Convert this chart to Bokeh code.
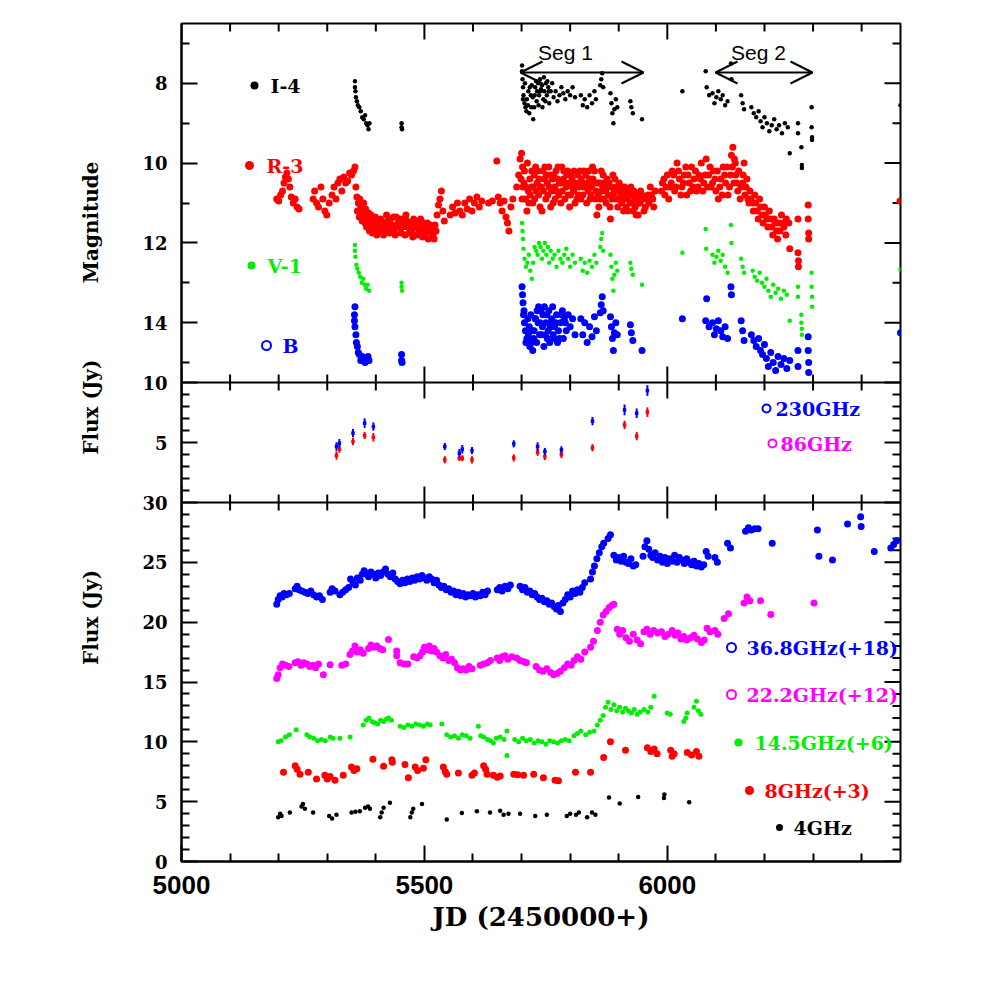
from math import pi
from bokeh.plotting import figure
from bokeh.layouts import row
from bokeh.models import Range1d, LinearAxis, FixedTicker, Span, Label, Arrow, OpenHead
from bokeh.embed import file_html
from bokeh.resources import INLINE

# ---------------- data (JD-2450000, value) ----------------
i_band = [
    (5357, 7.95), (5357, 8.1), (5358, 8.2), (5359, 8.35), (5361, 8.45), (5363, 8.55), (5366, 8.6), (5369, 8.7),
    (5372, 8.85), (5375, 8.9), (5378, 8.8), (5380, 9.0), (5383, 9.05), (5385, 9.15), (5387, 9.0),
    (5453, 9.0), (5453, 9.1), (5454, 9.15),
    (5701, 7.55), (5701, 7.7), (5702, 7.9), (5703, 8.1), (5704, 8.3), (5706, 8.5), (5708, 8.6), (5711, 8.4),
    (5714, 8.2), (5716, 8.75), (5719, 8.3), (5721, 8.05), (5724, 8.9), (5726, 8.6), (5728, 8.1), (5730, 7.95),
    (5732, 8.2), (5734, 8.0), (5736, 8.3), (5738, 7.9), (5740, 8.15), (5742, 8.05), (5745, 8.4), (5747, 8.2),
    (5750, 8.0), (5752, 8.3), (5755, 8.1), (5757, 8.5), (5760, 8.2), (5763, 8.0), (5766, 8.35), (5770, 8.2),
    (5774, 8.45), (5778, 8.3), (5782, 8.1), (5786, 8.25), (5790, 8.4), (5795, 8.2), (5800, 8.3), (5805, 8.1),
    (5810, 8.35), (5822, 8.3), (5826, 8.55), (5830, 8.4), (5835, 8.6), (5840, 8.3), (5845, 8.5), (5850, 8.2),
    (5853, 8.4), (5862, 8.05), (5864, 7.9), (5866, 7.75), (5868, 8.1), (5883, 8.25), (5885, 8.5), (5887, 8.75),
    (5889, 9.0), (5891, 8.65), (5894, 8.4), (5897, 8.6), (5924, 8.45), (5926, 8.6), (5929, 8.75), (5948, 8.9),
    (6031, 8.2), (6079, 7.7), (6081, 8.1), (6086, 8.3), (6093, 8.25), (6097, 8.5), (6101, 8.35), (6105, 8.2),
    (6110, 8.4), (6114, 8.3), (6119, 8.55), (6124, 8.45), (6131, 7.5), (6132, 7.9), (6152, 8.3), (6155, 8.5),
    (6158, 8.65), (6173, 8.6), (6178, 8.75), (6183, 8.85), (6188, 8.7), (6192, 8.95), (6196, 9.1), (6200, 8.85),
    (6205, 9.0), (6210, 9.2), (6215, 9.05), (6220, 8.9), (6225, 9.15), (6230, 9.05), (6236, 9.25), (6242, 9.0),
    (6248, 9.1), (6252, 9.75), (6269, 9.0), (6269, 9.25), (6276, 9.6), (6277, 10.05), (6277, 10.12),
    (6297, 8.6), (6297, 9.1), (6298, 9.35), (6298, 9.42), (6480, 8.55),
    (5703, 8.4), (5707, 8.0), (5710, 8.7), (5713, 8.55), (5717, 8.1), (5720, 8.6), (5723, 8.35), (5727, 8.3),
    (5731, 8.45), (5735, 8.55), (5739, 8.2), (5743, 8.6), (5746, 7.85), (5749, 8.45), (5753, 7.95), (5756, 8.2),
]

r_band = [
    (5196, 10.9), (5200, 10.95), (5204, 10.8), (5208, 10.7), (5211, 10.5), (5214, 10.35), (5217, 10.25),
    (5220, 10.4), (5223, 10.6), (5226, 10.85), (5230, 11.0), (5234, 10.9), (5238, 11.1), (5242, 11.15),
    (5271, 10.9), (5274, 10.7), (5278, 11.0), (5282, 11.1), (5287, 10.6), (5291, 10.9), (5295, 11.2),
    (5299, 11.3), (5304, 11.0), (5310, 10.8), (5314, 10.6), (5318, 10.9), (5322, 10.5), (5326, 10.4),
    (5330, 10.7), (5334, 10.35), (5338, 10.5), (5342, 10.45), (5346, 10.25), (5350, 10.3), (5354, 10.2),
    (5357, 10.1), (5359, 10.6), (5361, 10.85), (5364, 11.0), (5367, 10.9), (5370, 11.2), (5373, 11.05),
    (5376, 11.3), (5379, 11.15), (5382, 11.35), (5385, 11.25), (5388, 11.5), (5391, 11.4), (5394, 11.6),
    (5397, 11.45), (5400, 11.7), (5403, 11.55), (5406, 11.65), (5410, 11.4), (5414, 11.7), (5418, 11.5),
    (5422, 11.3), (5426, 11.6), (5430, 11.4), (5434, 11.55), (5438, 11.7), (5442, 11.35), (5446, 11.5),
    (5450, 11.6), (5454, 11.4), (5458, 11.55), (5462, 11.3), (5466, 11.6), (5470, 11.5), (5474, 11.7),
    (5478, 11.4), (5482, 11.6), (5486, 11.5), (5490, 11.75), (5494, 11.45), (5498, 11.6), (5502, 11.8),
    (5506, 11.5), (5510, 11.7), (5514, 11.6), (5518, 11.8), (5522, 11.55), (5526, 11.3), (5529, 11.05),
    (5532, 10.9), (5535, 10.7), (5538, 11.2), (5541, 11.45), (5553, 11.3), (5558, 11.1), (5563, 11.25),
    (5568, 11.0), (5573, 11.2), (5578, 11.3), (5583, 11.0), (5588, 11.15), (5593, 10.9), (5598, 11.2),
    (5603, 11.0), (5608, 10.85), (5613, 11.1), (5618, 10.95), (5632, 11.0), (5640, 10.95), (5649, 9.95),
    (5652, 10.85), (5656, 11.0), (5660, 11.2), (5664, 10.95), (5668, 11.35), (5671, 11.5), (5674, 11.7),
    (5678, 11.1), (5682, 10.9),
    (5690, 10.6), (5694, 10.3), (5697, 9.9), (5700, 9.75), (5702, 10.1), (5705, 10.5), (5708, 10.9),
    (5711, 11.2), (5714, 10.7), (5717, 10.4), (5720, 10.6), (5723, 11.0), (5726, 10.3), (5729, 10.1),
    (5732, 10.5), (5735, 10.8), (5738, 11.1), (5741, 10.6), (5744, 10.2), (5747, 10.4), (5750, 10.9),
    (5753, 10.5), (5756, 10.1), (5759, 10.3), (5762, 10.7), (5765, 11.0), (5768, 10.6), (5771, 10.2),
    (5774, 10.4), (5777, 10.8), (5780, 10.5), (5783, 10.1), (5786, 10.4), (5789, 10.9), (5792, 10.6),
    (5795, 10.2), (5798, 10.5), (5801, 10.8), (5804, 10.4), (5807, 10.7), (5810, 11.0), (5813, 10.6),
    (5816, 10.3), (5819, 10.6), (5822, 10.9), (5825, 10.5), (5828, 10.2), (5831, 10.6), (5834, 11.0),
    (5837, 10.7), (5840, 10.4), (5843, 10.8), (5846, 10.1), (5849, 10.5), (5852, 10.9), (5855, 11.3),
    (5858, 10.8), (5861, 10.5), (5864, 10.2), (5867, 10.6), (5870, 10.9), (5873, 10.7), (5876, 10.4),
    (5879, 10.8), (5882, 11.1), (5885, 10.6), (5888, 10.3), (5891, 10.7), (5894, 10.9), (5897, 10.6),
    (5900, 10.9), (5903, 10.7), (5906, 11.0), (5909, 10.8), (5912, 10.6), (5915, 11.1), (5918, 10.9),
    (5921, 10.7), (5924, 11.0), (5927, 10.8), (5930, 11.2), (5933, 10.9), (5936, 11.3), (5939, 10.8),
    (5942, 11.0), (5945, 10.7), (5950, 10.9), (5955, 11.1), (5960, 10.8), (5965, 10.6), (5970, 10.9),
    (5975, 10.7),
    (5990, 10.5), (5995, 10.8), (6000, 10.3), (6005, 10.6), (6010, 10.2), (6015, 10.7), (6020, 10.0),
    (6025, 10.4), (6030, 10.6), (6035, 10.3), (6040, 10.8), (6045, 10.5), (6050, 10.1), (6055, 10.4),
    (6060, 10.7), (6065, 10.3), (6070, 10.0), (6075, 10.5), (6080, 9.9), (6085, 10.3), (6090, 10.6),
    (6095, 10.2), (6100, 10.7), (6105, 10.9), (6110, 10.4), (6115, 10.1), (6120, 10.5), (6125, 10.8),
    (6130, 10.3), (6135, 9.6), (6138, 9.9), (6141, 10.3), (6145, 10.7), (6150, 10.9), (6155, 10.5),
    (6158, 10.0), (6162, 10.6), (6166, 10.9), (6170, 10.7), (6175, 11.0), (6180, 10.8), (6185, 11.2),
    (6190, 10.9), (6195, 11.3), (6200, 11.1), (6205, 11.4), (6210, 11.2), (6215, 11.6), (6220, 11.4),
    (6225, 11.7), (6230, 11.5), (6235, 11.3), (6240, 11.6), (6245, 11.4), (6250, 11.5),
    (6252, 12.15), (6269, 11.4), (6269, 12.25), (6270, 12.45), (6270, 12.6), (6290, 11.05), (6290, 11.4),
    (6291, 11.75), (6291, 11.9), (6479, 10.95),
]

r_band_dense = [
    (5362, 11.2), (5366, 11.35), (5369, 11.1), (5372, 11.45), (5375, 11.0), (5378, 11.5), (5381, 11.6),
    (5384, 11.4), (5387, 11.7), (5390, 11.3), (5393, 11.75), (5396, 11.5), (5399, 11.35), (5402, 11.8),
    (5405, 11.45), (5408, 11.7), (5412, 11.55), (5416, 11.8), (5420, 11.65), (5424, 11.45), (5428, 11.75),
    (5432, 11.6), (5436, 11.35), (5440, 11.8), (5444, 11.6), (5448, 11.4), (5452, 11.75), (5456, 11.6),
    (5460, 11.8), (5464, 11.45), (5468, 11.75), (5472, 11.6), (5476, 11.85), (5480, 11.55), (5484, 11.8),
    (5488, 11.65), (5492, 11.4), (5496, 11.85), (5500, 11.65), (5504, 11.7), (5508, 11.9), (5512, 11.55),
    (5516, 11.75), (5520, 11.9), (5524, 11.7),
    (5699, 10.4), (5701, 10.9), (5703, 10.6), (5706, 10.2), (5709, 10.6), (5712, 10.0), (5715, 11.0),
    (5718, 10.8), (5721, 10.2), (5724, 10.6), (5727, 10.9), (5730, 10.7), (5733, 10.2), (5736, 10.4),
    (5739, 10.6), (5742, 11.2), (5745, 10.7), (5748, 10.1), (5751, 10.3), (5754, 10.8), (5757, 10.6),
    (5760, 11.1), (5763, 10.4), (5766, 10.3), (5769, 10.9), (5772, 10.7), (5775, 10.1), (5778, 10.5),
    (5781, 11.0), (5784, 10.7), (5787, 10.2), (5790, 10.5), (5793, 10.3), (5796, 10.8), (5799, 11.1),
    (5802, 10.3), (5805, 10.6), (5808, 10.2), (5811, 10.5), (5814, 10.9), (5817, 10.8), (5820, 10.2),
    (5823, 10.4), (5826, 10.8), (5829, 10.6), (5832, 10.3), (5835, 10.5), (5838, 10.2), (5841, 10.9),
    (5844, 10.6), (5847, 10.4), (5850, 10.2), (5853, 10.7), (5856, 10.5), (5859, 11.1), (5862, 10.9),
    (5865, 10.7), (5868, 10.3), (5871, 10.5), (5874, 11.0), (5877, 10.6), (5880, 10.5), (5883, 11.4),
    (5886, 10.9), (5889, 10.8), (5892, 10.4), (5895, 10.6), (5898, 11.1), (5901, 10.5), (5904, 10.8),
    (5907, 10.6), (5910, 11.2), (5913, 10.9), (5916, 10.7), (5919, 11.2), (5922, 10.8), (5925, 10.6),
    (5928, 11.0), (5931, 10.7), (5934, 11.1), (5937, 10.9), (5940, 11.3), (5944, 11.0), (5948, 10.8),
    (5952, 11.2), (5957, 10.9), (5962, 11.0), (5967, 10.8), (5972, 11.1),
    (5988, 10.7), (5993, 10.4), (5998, 10.6), (6003, 10.9), (6008, 10.5), (6013, 10.3), (6018, 10.6),
    (6023, 10.2), (6028, 10.8), (6033, 10.5), (6038, 10.1), (6043, 10.3), (6048, 10.7), (6053, 10.6),
    (6058, 10.2), (6063, 10.6), (6068, 10.4), (6073, 10.7), (6078, 10.3), (6083, 10.6), (6088, 10.1),
    (6093, 10.5), (6098, 10.4), (6103, 10.2), (6108, 10.6), (6113, 10.8), (6118, 10.3), (6123, 10.1),
    (6128, 10.6), (6132, 9.8), (6134, 10.1), (6137, 10.5), (6140, 10.0), (6143, 10.5), (6147, 10.2),
    (6152, 10.6), (6156, 10.3), (6160, 10.8), (6164, 10.4), (6168, 11.0), (6172, 10.9), (6177, 11.2),
    (6182, 11.0), (6187, 11.4), (6192, 11.1), (6197, 11.5), (6202, 11.3), (6207, 11.6), (6212, 11.4),
    (6217, 11.8), (6222, 11.5), (6227, 11.9), (6232, 11.7), (6238, 11.5), (6244, 11.8),
]

v_band = [
    (5357, 12.05), (5357, 12.2), (5358, 12.35), (5360, 12.55), (5362, 12.65), (5365, 12.75), (5368, 12.85),
    (5371, 13.0), (5374, 12.9), (5377, 13.05), (5380, 13.15), (5383, 13.05), (5386, 13.2),
    (5453, 13.0), (5453, 13.1), (5454, 13.2),
    (5701, 11.5), (5702, 11.7), (5703, 11.9), (5704, 12.15), (5706, 12.4), (5709, 12.6), (5712, 12.5),
    (5715, 12.3), (5718, 12.7), (5721, 12.9), (5724, 12.5), (5727, 12.1), (5730, 12.2), (5733, 12.3),
    (5736, 12.0), (5739, 12.1), (5742, 12.4), (5745, 12.2), (5748, 12.0), (5751, 12.3), (5754, 12.1),
    (5757, 12.5), (5760, 12.2), (5764, 12.4), (5768, 12.3), (5772, 12.6), (5776, 12.2), (5780, 12.4),
    (5784, 12.5), (5788, 12.3), (5792, 12.15), (5796, 12.4), (5800, 12.6), (5805, 12.3), (5810, 12.5),
    (5822, 12.4), (5826, 12.7), (5830, 12.5), (5835, 12.75), (5840, 12.45), (5845, 12.6), (5850, 12.3),
    (5854, 12.5), (5862, 12.1), (5864, 11.9), (5866, 11.75), (5868, 12.2), (5883, 12.3), (5885, 12.6),
    (5887, 12.9), (5889, 13.2), (5891, 12.8), (5894, 12.5), (5897, 12.7), (5924, 12.5), (5926, 12.65),
    (5929, 12.8), (5948, 13.05), (6031, 12.25), (6079, 11.65), (6080, 12.15), (6093, 12.3), (6097, 12.5),
    (6101, 12.35), (6105, 12.2), (6110, 12.45), (6114, 12.3), (6119, 12.6), (6124, 12.75), (6131, 11.55),
    (6132, 12.0), (6152, 12.4), (6155, 12.6), (6158, 12.75), (6176, 12.7), (6180, 12.85), (6185, 12.95),
    (6190, 12.75), (6195, 13.0), (6200, 13.1), (6204, 12.9), (6208, 13.2), (6213, 13.35), (6218, 13.05),
    (6223, 13.25), (6228, 13.15), (6234, 13.4), (6240, 13.2), (6246, 13.3), (6252, 13.95), (6269, 13.1),
    (6269, 13.35), (6276, 13.8), (6276, 14.0), (6277, 14.15), (6277, 14.3), (6297, 12.75), (6297, 13.1),
    (6298, 13.35), (6298, 13.6), (6480, 12.67),
]

b_band = [
    (5357, 13.6), (5356, 13.8), (5356, 13.95), (5357, 14.1), (5359, 14.3), (5360, 14.5), (5362, 14.6),
    (5364, 14.75), (5366, 14.8), (5369, 14.95), (5372, 14.85), (5375, 14.9), (5378, 15.0), (5381, 14.95),
    (5384, 14.85), (5386, 14.95), (5453, 14.8), (5453, 14.95), (5454, 15.0),
    (5701, 13.1), (5702, 13.3), (5703, 13.5), (5704, 13.8), (5706, 14.0), (5708, 14.2), (5711, 14.4),
    (5714, 14.3), (5717, 14.6), (5720, 14.5), (5723, 14.7), (5726, 14.2), (5729, 13.9), (5732, 13.7),
    (5735, 13.6), (5738, 14.0), (5741, 14.3), (5744, 13.8), (5747, 13.6), (5750, 14.0), (5753, 14.4),
    (5756, 13.7), (5759, 14.1), (5762, 13.9), (5765, 14.3), (5768, 14.1), (5772, 13.8), (5776, 14.2),
    (5780, 14.0), (5784, 13.7), (5788, 13.9), (5792, 14.2), (5796, 13.8), (5800, 14.1), (5805, 13.9),
    (5810, 14.3), (5822, 13.9), (5826, 14.3), (5830, 14.0), (5835, 14.5), (5840, 14.1), (5845, 14.35),
    (5850, 13.85), (5854, 14.2), (5862, 13.75), (5864, 13.55), (5866, 13.35), (5868, 13.7), (5883, 13.85),
    (5885, 14.1), (5887, 14.4), (5889, 14.7), (5891, 14.25), (5894, 14.0), (5897, 14.3), (5924, 14.05),
    (5926, 14.25), (5929, 14.45), (5948, 14.7), (6031, 13.9), (6081, 13.4), (6079, 13.95), (6086, 14.1),
    (6093, 14.0), (6097, 14.3), (6101, 14.15), (6105, 13.95), (6110, 14.2), (6114, 14.35), (6119, 14.1),
    (6124, 14.4), (6131, 13.1), (6132, 13.3), (6152, 13.95), (6155, 14.2), (6158, 14.45), (6173, 14.3),
    (6178, 14.45), (6183, 14.6), (6188, 14.4), (6192, 14.7), (6196, 14.8), (6200, 14.55), (6204, 14.9),
    (6208, 15.1), (6213, 14.75), (6218, 15.0), (6223, 15.2), (6228, 14.85), (6234, 15.05), (6240, 14.9),
    (6246, 15.15), (6252, 14.95), (6269, 14.7), (6269, 15.1), (6290, 14.35), (6290, 14.7), (6291, 15.0),
    (6291, 15.25), (6480, 14.25),
    (5705, 13.7), (5709, 14.5), (5713, 13.9), (5716, 14.1), (5719, 13.8), (5722, 14.2), (5725, 14.4),
    (5728, 13.9), (5731, 14.5), (5734, 14.0), (5737, 14.3), (5740, 13.7), (5743, 14.1), (5746, 14.6),
    (5749, 14.3), (5752, 13.8), (5755, 14.2), (5758, 14.5), (5761, 14.0), (5764, 13.6), (5767, 14.4),
    (5770, 14.0), (5774, 14.5), (5778, 14.4), (5782, 13.8), (5786, 14.4), (5790, 14.0),
]

mm230 = [(5319, 4.67), (5325, 4.94), (5353, 5.78), (5377, 6.61), (5395, 6.33), (5542, 4.67), (5572, 4.11),
         (5578, 4.44), (5598, 4.33), (5684, 4.89), (5733, 4.67), (5748, 4.25), (5782, 4.39), (5846, 6.78),
         (5912, 7.72), (5937, 7.44), (5959, 9.33)]
mm230_err = [0.35, 0.35, 0.35, 0.4, 0.35, 0.3, 0.35, 0.35, 0.3, 0.3, 0.35, 0.3, 0.3, 0.35, 0.45, 0.4, 0.45]
mm86 = [(5319, 3.92), (5325, 4.44), (5353, 5.08), (5377, 5.58), (5395, 5.44), (5542, 3.56), (5572, 3.69),
        (5578, 3.69), (5598, 3.56), (5684, 3.72), (5733, 4.19), (5748, 3.83), (5782, 4.0), (5846, 4.56),
        (5912, 6.47), (5937, 5.53), (5959, 7.53)]
mm86_err = [0.35, 0.3, 0.3, 0.3, 0.35, 0.3, 0.25, 0.25, 0.3, 0.3, 0.3, 0.3, 0.3, 0.3, 0.35, 0.35, 0.4]

f368 = [
    (5196, 21.5), (5199, 21.9), (5203, 22.2), (5207, 22.1), (5211, 22.4), (5216, 22.3), (5222, 22.4),
    (5234, 22.8), (5238, 23.0), (5242, 22.7), (5248, 22.6), (5254, 22.5), (5260, 22.4), (5266, 22.6),
    (5272, 22.3), (5278, 22.1), (5284, 22.2), (5290, 21.9), (5306, 22.5), (5310, 22.8), (5316, 22.6),
    (5326, 22.3), (5332, 22.5), (5338, 22.7), (5344, 22.9), (5348, 23.6), (5353, 23.3), (5358, 23.1),
    (5362, 23.7), (5368, 23.5), (5372, 24.0), (5376, 24.3), (5380, 24.1), (5385, 23.8), (5390, 24.2),
    (5395, 24.0), (5400, 23.7), (5405, 24.1), (5410, 23.9), (5415, 24.2), (5420, 24.45), (5425, 24.0),
    (5430, 23.8), (5435, 24.1), (5440, 23.6), (5445, 23.4), (5450, 23.2), (5455, 23.5), (5460, 23.3),
    (5465, 23.6), (5470, 23.4), (5475, 23.7), (5480, 23.5), (5485, 23.8), (5490, 23.6), (5495, 23.9),
    (5500, 23.7), (5505, 23.5), (5510, 23.8), (5515, 23.6), (5520, 23.3), (5525, 23.5), (5530, 23.1),
    (5535, 22.9), (5540, 23.0), (5545, 22.7), (5550, 22.8), (5555, 22.5), (5560, 22.6), (5565, 22.3),
    (5570, 22.5), (5575, 22.2), (5580, 22.4), (5585, 22.1), (5590, 22.3), (5595, 22.2), (5600, 22.4),
    (5605, 22.1), (5610, 22.3), (5615, 22.2), (5620, 22.5), (5625, 22.3), (5630, 22.6), (5650, 22.7),
    (5655, 22.9), (5660, 22.6), (5666, 23.0), (5672, 22.8), (5677, 23.1), (5697, 23.0), (5702, 22.7),
    (5707, 22.9), (5712, 22.5), (5717, 22.6), (5722, 22.3), (5727, 22.4), (5732, 22.1), (5737, 21.9),
    (5742, 22.0), (5747, 21.7), (5752, 21.8), (5757, 21.5), (5762, 21.6), (5767, 21.3), (5772, 21.1),
    (5776, 21.4), (5780, 20.9), (5785, 21.6), (5790, 21.9), (5795, 22.3), (5800, 22.1), (5805, 22.6),
    (5810, 22.4), (5815, 22.7), (5820, 22.5), (5825, 22.9), (5830, 23.3), (5842, 23.6), (5846, 24.2),
    (5850, 24.7), (5855, 25.3), (5860, 25.8), (5865, 26.3), (5869, 26.6), (5878, 27.0), (5883, 27.3),
    (5890, 25.6), (5895, 25.2), (5900, 25.4), (5905, 25.1), (5910, 25.5), (5915, 25.0), (5920, 24.9),
    (5925, 25.3), (5930, 24.7), (5935, 24.8), (5950, 25.5), (5954, 26.3), (5958, 26.8), (5962, 26.1),
    (5966, 25.6), (5970, 25.4), (5975, 25.8), (5980, 25.2), (5985, 25.5), (5990, 25.0), (5995, 25.4),
    (6000, 24.9), (6005, 25.3), (6010, 25.1), (6015, 25.6), (6020, 25.0), (6025, 25.4), (6030, 25.2),
    (6035, 24.9), (6040, 25.3), (6045, 25.0), (6050, 24.8), (6055, 25.1), (6060, 24.7), (6065, 24.9),
    (6070, 24.6), (6075, 24.8), (6080, 25.9), (6084, 25.5), (6098, 25.4), (6103, 25.0), (6124, 26.6),
    (6130, 26.2), (6161, 27.6), (6167, 27.9), (6173, 27.7), (6180, 27.8), (6187, 27.8), (6216, 26.6),
    (6309, 27.7), (6312, 25.5), (6340, 25.2), (6371, 28.2), (6398, 28.8), (6399, 28.0), (6426, 25.9),
    (6460, 26.2), (6466, 26.5), (6472, 26.8),
]

f222 = [
    (5196, 15.3), (5199, 15.6), (5203, 16.2), (5208, 16.5), (5214, 16.4), (5221, 16.3), (5234, 16.6),
    (5240, 16.7), (5246, 16.4), (5252, 16.6), (5258, 16.5), (5264, 16.3), (5270, 16.4), (5276, 16.2),
    (5282, 16.5), (5292, 15.6), (5306, 16.45), (5330, 16.4), (5338, 16.5), (5347, 17.3), (5352, 17.6),
    (5357, 18.0), (5362, 17.5), (5368, 17.7), (5374, 17.4), (5385, 17.8), (5390, 18.1), (5396, 17.9),
    (5402, 18.0), (5408, 17.8), (5414, 17.7), (5426, 18.55), (5443, 17.6), (5443, 17.2), (5450, 16.6),
    (5458, 16.5), (5466, 16.5), (5478, 17.1), (5485, 17.0), (5491, 17.2), (5496, 17.5), (5500, 17.9),
    (5505, 17.7), (5510, 18.0), (5515, 17.6), (5520, 17.8), (5525, 17.5), (5532, 17.2), (5538, 17.0),
    (5544, 17.3), (5550, 16.8), (5556, 16.9), (5562, 16.6), (5568, 16.2), (5574, 16.0), (5580, 16.1),
    (5586, 16.0), (5592, 16.3), (5598, 16.1), (5615, 16.4), (5622, 16.5), (5630, 16.6), (5636, 16.8),
    (5650, 17.0), (5655, 16.8), (5660, 17.1), (5666, 17.2), (5672, 16.9), (5680, 17.1), (5690, 17.0),
    (5697, 16.8), (5705, 16.7), (5710, 16.6), (5730, 16.3), (5737, 16.0), (5744, 15.9), (5752, 16.1),
    (5760, 15.8), (5766, 15.6), (5773, 15.7), (5780, 15.9), (5788, 16.2), (5795, 16.5), (5802, 16.4),
    (5808, 16.8), (5815, 17.1), (5822, 16.9), (5830, 17.5), (5842, 17.9), (5848, 18.4), (5856, 19.3),
    (5862, 20.0), (5868, 20.6), (5874, 20.9), (5880, 21.2), (5886, 21.4), (5890, 21.5), (5897, 19.4),
    (5902, 19.0), (5908, 19.3), (5915, 18.7), (5922, 18.4), (5930, 19.0), (5938, 18.5), (5945, 18.2),
    (5952, 19.2), (5958, 19.4), (5965, 19.0), (5972, 19.3), (5980, 19.1), (5988, 19.2), (5995, 18.8),
    (6002, 19.0), (6010, 19.3), (6016, 18.9), (6022, 19.1), (6028, 18.6), (6034, 18.8), (6040, 18.5),
    (6048, 18.7), (6055, 18.9), (6062, 18.6), (6070, 18.3), (6076, 18.5), (6082, 19.5), (6088, 19.2),
    (6098, 19.3), (6104, 19.0), (6117, 20.3), (6126, 20.7), (6158, 21.6), (6164, 22.1), (6170, 21.8),
    (6192, 21.8), (6213, 20.65), (6302, 21.6),
]

f145 = [
    (5199, 10.0), (5205, 10.1), (5214, 10.4), (5222, 10.6), (5236, 11.0), (5258, 10.6), (5264, 10.4),
    (5272, 10.3), (5280, 10.1), (5288, 10.2), (5296, 10.1), (5306, 10.4), (5312, 10.3), (5326, 10.3),
    (5347, 10.4), (5374, 11.4), (5380, 11.8), (5386, 12.0), (5392, 11.7), (5398, 11.6), (5404, 11.5),
    (5410, 11.8), (5416, 11.7), (5422, 11.9), (5426, 12.0), (5432, 11.8), (5450, 11.3), (5458, 11.2),
    (5466, 11.4), (5474, 11.3), (5482, 11.5), (5490, 11.4), (5498, 11.3), (5506, 11.5), (5512, 11.4),
    (5536, 11.5), (5546, 10.6), (5554, 10.4), (5562, 10.5), (5570, 10.3), (5578, 10.6), (5586, 10.5),
    (5594, 10.3), (5611, 11.3), (5616, 10.5), (5622, 10.4), (5630, 10.2), (5636, 10.1), (5642, 9.9),
    (5648, 10.3), (5656, 10.4), (5664, 10.2), (5670, 10.9), (5670, 8.85), (5686, 10.2), (5694, 10.0),
    (5702, 10.3), (5710, 10.1), (5718, 10.2), (5726, 9.9), (5734, 10.1), (5742, 10.0), (5750, 9.8),
    (5758, 10.1), (5766, 10.0), (5774, 9.9), (5782, 10.1), (5790, 10.2), (5798, 10.1), (5808, 10.5),
    (5815, 10.7), (5822, 10.9), (5832, 10.6), (5840, 10.8), (5849, 10.9), (5856, 11.4), (5862, 11.8),
    (5868, 12.2), (5873, 12.9), (5878, 13.3), (5884, 12.7), (5890, 13.1), (5896, 12.6), (5902, 12.9),
    (5908, 12.5), (5914, 12.8), (5920, 12.6), (5926, 12.4), (5932, 12.7), (5938, 12.3), (5944, 12.5),
    (5952, 12.7), (5960, 12.5), (5966, 12.9), (5973, 13.8), (6000, 12.4), (6006, 12.3), (6034, 11.7),
    (6038, 12.0), (6041, 12.4), (6055, 12.9), (6060, 13.4), (6064, 12.6), (6069, 12.3),
]

f8 = [
    (5210, 7.45), (5234, 8.0), (5238, 7.7), (5244, 7.3), (5261, 7.45), (5278, 6.9), (5295, 7.2),
    (5300, 6.9), (5306, 7.1), (5316, 6.8), (5333, 7.2), (5350, 7.9), (5355, 7.6), (5361, 7.75),
    (5394, 8.55), (5416, 7.95), (5433, 8.5), (5434, 8.3), (5460, 8.1), (5467, 7.0), (5481, 7.9),
    (5486, 7.6), (5498, 7.8), (5503, 8.5), (5539, 7.9), (5543, 7.5), (5546, 7.3), (5570, 7.4),
    (5598, 7.2), (5603, 7.4), (5622, 8.0), (5626, 7.7), (5629, 7.3), (5642, 7.2), (5650, 7.05),
    (5656, 7.15), (5684, 7.3), (5692, 7.25), (5704, 7.2), (5725, 7.3), (5745, 7.0), (5769, 6.8),
    (5776, 6.75), (5811, 7.45), (5842, 7.45), (5869, 8.7), (5883, 10.0), (5914, 9.3), (5959, 9.5),
    (5966, 9.2), (5973, 9.4), (5979, 9.0), (6007, 9.3), (6010, 8.8), (6014, 9.0), (6041, 9.1),
    (6050, 8.9), (6060, 9.2), (6065, 8.8),
]

f4 = [
    (5199, 3.7), (5203, 4.0), (5206, 3.8), (5223, 4.1), (5247, 4.6), (5250, 4.8), (5254, 4.4),
    (5271, 4.1), (5304, 3.8), (5310, 3.6), (5319, 3.9), (5350, 4.1), (5358, 4.15), (5367, 4.2),
    (5378, 4.5), (5384, 4.6), (5388, 4.4), (5409, 3.7), (5412, 4.1), (5416, 4.5), (5429, 4.9),
    (5471, 3.7), (5474, 4.1), (5477, 4.4), (5495, 4.8), (5546, 3.5), (5577, 4.05), (5608, 4.2),
    (5635, 4.1), (5656, 4.25), (5663, 3.9), (5673, 4.0), (5697, 4.0), (5728, 3.8), (5752, 3.9),
    (5793, 3.8), (5800, 4.0), (5812, 3.9), (5818, 4.1), (5835, 3.7), (5845, 4.1), (5852, 3.9),
    (5880, 5.35), (5902, 4.85), (5940, 5.4), (5993, 5.3), (5994, 5.6), (6045, 4.95),
]

x_major = [5000, 5500, 6000]
x_minor = [5100, 5200, 5300, 5400, 5600, 5700, 5800, 5900, 6100, 6200, 6300, 6400]
mag_major = [8, 10, 12, 14]
mag_minor = [7, 9, 11, 13, 15]
mid_major = [5, 10]
mid_minor = [1, 2, 3, 4, 6, 7, 8, 9]
bot_major = [0, 5, 10, 15, 20, 25, 30]
bot_minor = [v for v in range(1, 30) if v % 5]

# ---------------- layout (page pixels) ----------------
FL, FT, FW, FH = 181, 23, 719, 838      # frame left/top/width/height on the page
LAB_W = 120                              # width of the strip that carries the y titles
W, H = 965, 961
H_TOP, H_MID, H_BOT = 359, 120, 359
X0, X1 = 5000, 6480
DAYS_PER_PX = (X1 - X0) / FW


def top_y(m):
    return H_BOT + H_MID + (15.5 - m) * H_TOP / 9.0


def mid_y(f):
    return H_BOT + f * H_MID / 10.0


def bot_y(f):
    return f * H_BOT / 30.0


def px2jd(px):
    return X0 + (px - FL) * DAYS_PER_PX


def py2y(py):
    return FT + FH - py


p = figure(width=W - LAB_W, height=H, output_backend="svg", toolbar_location=None,
           x_range=Range1d(X0, X1), y_range=Range1d(0, FH),
           min_border_left=FL - LAB_W, min_border_right=W - FL - FW,
           min_border_top=FT, min_border_bottom=H - FT - FH,
           x_axis_location=None, y_axis_location=None)
p.grid.visible = False
p.outline_line_color = "black"
p.outline_line_width = 2

p.extra_y_ranges = {
    "top": Range1d(start=15.5 + (H_BOT + H_MID) * 9.0 / H_TOP, end=6.5),
    "mid": Range1d(start=-H_BOT * 10.0 / H_MID, end=(FH - H_BOT) * 10.0 / H_MID),
    "bot": Range1d(start=0, end=FH * 30.0 / H_BOT),
}

# ---- left axis: one tick set covering the three panels ----
y_major = [bot_y(v) for v in bot_major] + [mid_y(v) for v in mid_major] + [top_y(m) for m in mag_major]
y_labels = [str(v) for v in bot_major] + [str(v) for v in mid_major] + [str(m) for m in mag_major]
y_minor = [bot_y(v) for v in bot_minor] + [mid_y(v) for v in mid_minor] + [top_y(m) for m in mag_minor]
overrides = {t: s for t, s in zip(y_major, y_labels)}

tick_style = dict(axis_line_color="black", axis_line_width=2,
                  major_tick_in=16, major_tick_out=0, minor_tick_in=8, minor_tick_out=0,
                  major_tick_line_width=2, minor_tick_line_width=2,
                  major_tick_line_color="black", minor_tick_line_color="black")

yl = LinearAxis(ticker=FixedTicker(ticks=y_major, minor_ticks=y_minor),
                major_label_overrides=overrides, major_label_standoff=14,
                major_label_text_font="DejaVu Serif", major_label_text_font_size="18px",
                major_label_text_font_style="bold", major_label_text_color="black", **tick_style)
p.add_layout(yl, "left")

xb = LinearAxis(ticker=FixedTicker(ticks=x_major, minor_ticks=x_minor),
                major_label_standoff=14, major_label_text_font="Liberation Sans",
                major_label_text_font_size="26px", major_label_text_font_style="bold",
                major_label_text_color="black",
                axis_label="JD (2450000+)", axis_label_standoff=5,
                axis_label_text_font="DejaVu Serif", axis_label_text_font_size="26px",
                axis_label_text_font_style="bold", axis_label_text_color="black", **tick_style)
p.add_layout(xb, "below")

# ---- mirrored ticks: top edge, right edge and both panel separators ----
TICK = dict(line_color="black", line_width=2)
for y_edge, down, up in ((FH, 1, 0), (H_BOT, 1, 1), (H_BOT + H_MID, 1, 1)):
    p.segment(x0=x_minor, x1=x_minor, y0=[y_edge - 8 * down] * len(x_minor),
              y1=[y_edge + 8 * up] * len(x_minor), **TICK)
    p.segment(x0=x_major, x1=x_major, y0=[y_edge - 16 * down] * len(x_major),
              y1=[y_edge + 16 * up] * len(x_major), **TICK)
for sep in (H_BOT, H_BOT + H_MID):
    p.add_layout(Span(location=sep, dimension="width", line_color="black", line_width=2))
p.segment(x0=[X1 - 16 * DAYS_PER_PX] * len(y_major), x1=[X1] * len(y_major), y0=y_major, y1=y_major, **TICK)
p.segment(x0=[X1 - 8 * DAYS_PER_PX] * len(y_minor), x1=[X1] * len(y_minor), y0=y_minor, y1=y_minor, **TICK)

# ---------------- data glyphs ----------------
RED, GREEN, BLUE, MAGENTA = "#ff0000", "#00ee00", "#0000ff", "#ff00ff"


def xy(pairs):
    return [a for a, _ in pairs], [b for _, b in pairs]


jd, m = xy(r_band + r_band_dense)
p.scatter(jd, m, y_range_name="top", size=7, color=RED, line_width=0)
jd, m = xy(i_band)
p.scatter(jd, m, y_range_name="top", size=4.5, color="black", line_width=0)
jd, m = xy(v_band)
p.scatter(jd, m, y_range_name="top", size=4.5, color=GREEN, line_width=0)
jd, m = xy(b_band)
p.scatter(jd, m, y_range_name="top", size=7, color=BLUE, line_width=0)

for pairs, err, col in ((mm86, mm86_err, RED), (mm230, mm230_err, BLUE)):
    jd, f = xy(pairs)
    p.segment(x0=jd, x1=jd, y0=[a - e for a, e in zip(f, err)], y1=[a + e for a, e in zip(f, err)],
              y_range_name="mid", line_color=col, line_width=2)
    p.scatter(jd, f, marker="square", y_range_name="mid", size=3.5, color=col, line_width=0)

for pairs, col, sz in ((f4, "black", 4.5), (f8, RED, 7), (f145, GREEN, 5), (f222, MAGENTA, 7), (f368, BLUE, 7)):
    jd, f = xy(pairs)
    p.scatter(jd, f, y_range_name="bot", size=sz, color=col, line_width=0)

# ---------------- legends ----------------
LEG_FONT = dict(text_font="DejaVu Serif", text_font_size="19px", text_font_style="bold",
                text_baseline="middle", text_align="left")
legend = [
    ("I-4", "black", (254, 85), (270, 85), True, 8),
    ("R-3", RED, (249, 165), (266, 165), True, 9),
    ("V-1", GREEN, (251, 265), (267, 265), True, 8),
    ("B", BLUE, (266, 345), (282, 345), False, 9),
    ("230GHz", BLUE, (766, 408), (775, 408), False, 8),
    ("86GHz", MAGENTA, (772, 443), (780, 443), False, 8),
    ("36.8GHz(+18)", BLUE, (731, 647), (746, 647), False, 9),
    ("22.2GHz(+12)", MAGENTA, (731, 694), (746, 694), False, 9),
    ("14.5GHz(+6)", GREEN, (738, 742), (754, 742), True, 8),
    ("8GHz(+3)", RED, (749, 790), (764, 790), True, 9),
    ("4GHz", "black", (779, 827), (793, 827), True, 7),
]
for txt, col, (mx, my), (tx, ty), filled, sz in legend:
    if filled:
        p.scatter([px2jd(mx)], [py2y(my)], size=sz, color=col, line_width=0)
    else:
        p.scatter([px2jd(mx)], [py2y(my)], size=sz, fill_color=None, line_color=col, line_width=2)
    p.add_layout(Label(x=px2jd(tx), y=py2y(ty), text=txt, text_color=col, **LEG_FONT))

# ---------------- segment arrows ----------------
for name, xa, xb_, xc in (("Seg 1", 520, 643, 565), ("Seg 2", 715, 812, 758)):
    p.add_layout(Arrow(x_start=px2jd(xa), x_end=px2jd(xb_), y_start=py2y(72), y_end=py2y(72),
                       start=OpenHead(size=22, line_width=2, line_color="black"),
                       end=OpenHead(size=22, line_width=2, line_color="black"),
                       line_width=2, line_color="black"))
    p.add_layout(Label(x=px2jd(xc), y=py2y(52), text=name, text_font="Liberation Sans",
                       text_font_size="21px", text_align="center", text_baseline="middle",
                       text_color="black"))

# ---------------- y-axis titles (left strip) ----------------
lab = figure(width=LAB_W, height=H, output_backend="svg", toolbar_location=None,
             x_range=Range1d(0, LAB_W), y_range=Range1d(0, H),
             min_border=0, x_axis_location=None, y_axis_location=None)
lab.grid.visible = False
lab.outline_line_color = None
for txt, cy in (("Magnitude", 228), ("Flux (Jy)", 440), ("Flux (Jy)", 681)):
    lab.add_layout(Label(x=90, y=H - cy, text=txt, angle=pi / 2, text_font="DejaVu Serif",
                         text_font_size="20px", text_font_style="bold", text_align="center",
                         text_baseline="middle", text_color="black"))

layout = row(lab, p)
open("out.html", "w").write(file_html(layout, INLINE))
